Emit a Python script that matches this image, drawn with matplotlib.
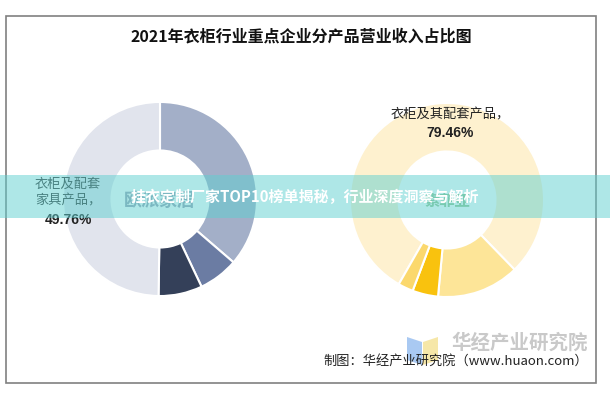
import matplotlib
matplotlib.use('Agg')
import matplotlib.pyplot as plt
from matplotlib.patches import Rectangle, Polygon

plt.rcParams['font.family'] = ['Noto Sans CJK SC', 'DejaVu Sans']

W, H = 610, 394

title = '2021年衣柜行业重点企业分产品营业收入占比图'
banner = '挂衣定制厂家TOP10榜单揭秘，行业深度洞察与解析'
credit = '制图：华经产业研究院（www.huaon.com）'

# 欧派家居
oppein_name = '欧派家居'
oppein_vals = [36.32, 6.64, 7.28, 49.76]
oppein_colors = ['#a3afc8', '#6b7ca3', '#344059', '#e1e4ed']
oppein_label = '衣柜及配套\n家具产品，'
oppein_pct = '49.76%'

# 索菲亚
sofia_name = '索菲亚'
sofia_vals = [79.46, 13.74, 4.28, 2.52]
sofia_colors = ['#fef1cf', '#fde598', '#f9c20e', '#fbd86d']
sofia_label = '衣柜及其配套产品，'
sofia_pct = '79.46%'


def fx(x):
    return x / W


def fy(y):
    return 1 - y / H


fig = plt.figure(figsize=(W / 100, H / 100), dpi=100)
fig.patch.set_facecolor('white')

# frame
fig.patches.append(Rectangle((fx(6), fy(383)), fx(590), 367 / H, transform=fig.transFigure,
                             fill=False, edgecolor='#808080', lw=1.2))

fig.text(fx(301), fy(36), title, ha='center', va='center', fontsize=11.5,
         fontweight='bold', color='#111111')

r = 98


def donut(cx, cy, vals, colors, start):
    ax = fig.add_axes([fx(cx - r), fy(cy + r), 2 * r / W, 2 * r / H])
    ax.pie(vals, colors=colors, startangle=start, counterclock=False,
           wedgeprops=dict(width=0.5, edgecolor='white', linewidth=1.5))
    ax.set_xlim(-1.01, 1.01)
    ax.set_ylim(-1.01, 1.01)
    ax.set_aspect('equal')
    ax.axis('off')
    return ax


donut(160, 199, oppein_vals, oppein_colors, 90)
donut(447, 200, sofia_vals, sofia_colors, 90 - 209.8)

# names in the holes (sit under the banner like in the original)
fig.text(fx(160), fy(200), oppein_name, ha='center', va='center', fontsize=13,
         fontweight='bold', color='#99a1b4')
fig.text(fx(447), fy(201), sofia_name, ha='center', va='center', fontsize=11,
         fontweight='bold', color='#93c491')

# data labels
fig.text(fx(68), fy(193), oppein_label, ha='center', va='center', fontsize=9.5,
         color='#333333', linespacing=1.35)
fig.text(fx(68), fy(220), oppein_pct, ha='center', va='center', fontsize=10,
         fontweight='bold', color='#222222', family=['Liberation Sans', 'DejaVu Sans'])
fig.text(fx(450), fy(115), sofia_label, ha='center', va='center', fontsize=9.5,
         color='#222222')
fig.text(fx(450), fy(133), sofia_pct, ha='center', va='center', fontsize=10,
         fontweight='bold', color='#222222', family=['Liberation Sans', 'DejaVu Sans'])

# banner
fig.patches.append(Rectangle((0, fy(218)), 1, 43 / H, transform=fig.transFigure,
                             facecolor='#5fd0d0', alpha=0.5, edgecolor='none', zorder=5))
fig.text(fx(305), fy(197), banner, ha='center', va='center', fontsize=10.8,
         fontweight='bold', color='white', zorder=6)

# watermark logo
fig.patches.append(Polygon([(fx(407), fy(337)), (fx(422), fy(342)), (fx(422), fy(365)), (fx(407), fy(360))],
                           closed=True, transform=fig.transFigure, facecolor='#a9c9f2', edgecolor='none'))
fig.patches.append(Polygon([(fx(423), fy(342)), (fx(438), fy(337)), (fx(438), fy(360)), (fx(423), fy(365))],
                           closed=True, transform=fig.transFigure, facecolor='#f6e7a8', edgecolor='none'))
fig.text(fx(588), fy(343), '华经产业研究院', ha='right', va='center', fontsize=14,
         fontweight='bold', color='#c9c9c9')
fig.text(fx(588), fy(361), credit, ha='right', va='center', fontsize=9.5, color='#222222')

fig.savefig('out.png', dpi=100)
